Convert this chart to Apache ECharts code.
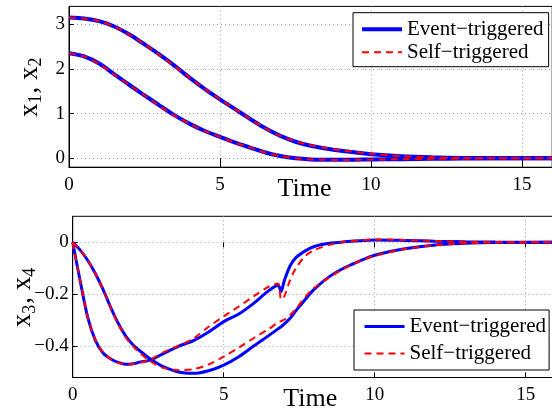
<!DOCTYPE html>
<html>
<head>
<meta charset="UTF-8">
<script src="https://cdn.jsdelivr.net/npm/echarts@6/dist/echarts.min.js"></script>
<title>Event vs self triggered</title>
<style>
    html, body { margin: 0; padding: 0; background: #fff; }
    #chart { width: 552px; height: 411px; }
</style>
</head>
<body>
<div id="chart"></div>
<script>
// top panel: x1, x2
const timeTop = [0, 0.5, 1, 1.5, 2, 2.5, 3, 3.5, 4, 4.5, 5, 5.5, 6, 6.5, 7, 7.5, 8, 8.5, 9, 9.5, 10, 11, 12, 13, 14, 16];
const x1Event = [3.15, 3.13, 3.07, 2.95, 2.77, 2.55, 2.32, 2.07, 1.80, 1.55, 1.32, 1.10, 0.88, 0.67, 0.50, 0.37, 0.28, 0.22, 0.17, 0.13, 0.09, 0.045, 0.02, 0.008, 0.003, 0];
const x1Self  = [3.15, 3.13, 3.07, 2.95, 2.77, 2.55, 2.31, 2.06, 1.80, 1.55, 1.32, 1.10, 0.88, 0.67, 0.50, 0.38, 0.29, 0.23, 0.18, 0.14, 0.10, 0.05, 0.022, 0.009, 0.003, 0];
const x2Event = [2.35, 2.28, 2.12, 1.88, 1.64, 1.41, 1.18, 0.96, 0.77, 0.61, 0.48, 0.35, 0.24, 0.13, 0.05, 0.0, -0.025, -0.033, -0.035, -0.032, -0.028, -0.02, -0.012, -0.006, -0.002, 0];
const x2Self  = [2.35, 2.28, 2.11, 1.87, 1.64, 1.41, 1.17, 0.95, 0.77, 0.61, 0.48, 0.35, 0.24, 0.13, 0.05, 0.0, -0.027, -0.036, -0.038, -0.035, -0.03, -0.021, -0.013, -0.006, -0.002, 0];

// bottom panel: x3, x4
const timeBot = [0, 0.25, 0.5, 0.75, 1, 1.25, 1.5, 1.75, 2, 2.25, 2.5, 2.75, 3, 3.5, 4, 4.5, 5, 5.5, 6, 6.5, 6.8, 6.9, 7.0, 7.2, 7.4, 7.7, 8, 8.5, 9, 9.5, 10, 11, 12, 13, 14, 16];
const x3Event = [0, -0.15, -0.29, -0.377, -0.425, -0.448, -0.462, -0.469, -0.467, -0.46, -0.455, -0.443, -0.428, -0.4, -0.378, -0.345, -0.305, -0.276, -0.234, -0.185, -0.165, -0.19, -0.15, -0.09, -0.058, -0.033, -0.016, -0.004, 0.002, 0.006, 0.009, 0.007, 0.004, 0.002, 0.001, 0];
const x3Self  = [0, -0.15, -0.29, -0.375, -0.423, -0.448, -0.463, -0.47, -0.468, -0.462, -0.455, -0.44, -0.423, -0.398, -0.37, -0.325, -0.285, -0.247, -0.207, -0.17, -0.158, -0.22, -0.21, -0.145, -0.098, -0.053, -0.03, -0.01, 0.002, 0.007, 0.011, 0.009, 0.005, 0.002, 0.001, 0];
const x4Event = [0, -0.03, -0.07, -0.12, -0.18, -0.248, -0.31, -0.36, -0.395, -0.42, -0.443, -0.462, -0.478, -0.499, -0.504, -0.494, -0.472, -0.44, -0.398, -0.358, -0.333, -0.325, -0.315, -0.292, -0.262, -0.22, -0.18, -0.132, -0.098, -0.072, -0.05, -0.025, -0.01, -0.004, -0.001, 0];
const x4Self  = [0, -0.03, -0.07, -0.12, -0.18, -0.25, -0.313, -0.365, -0.4, -0.428, -0.452, -0.47, -0.483, -0.492, -0.488, -0.47, -0.44, -0.405, -0.368, -0.333, -0.308, -0.303, -0.298, -0.28, -0.255, -0.21, -0.175, -0.135, -0.1, -0.072, -0.052, -0.026, -0.011, -0.004, -0.001, 0];

const xTicks = [0, 5, 10, 15];
const yTicksTop = [0, 1, 2, 3];
const yTicksBot = [-0.4, -0.2, 0];
const legendNames = ['Event\u2212triggered', 'Self\u2212triggered'];

const serif = 'Liberation Serif';
const blue = '#0000ff';
const red = '#ff0000';

function pairs(t, v) {
    return t.map((tt, i) => [tt, v[i]]);
}

function minusFmt(v) {
    return String(v).replace('-', '\u2212');
}

function timeAxis(gridIndex, shift) {
    return {
        type: 'value', gridIndex: gridIndex, min: 0, max: 16,
        name: 'Time', nameLocation: 'middle', nameGap: 9, nameMoveOverlap: false,
        nameTextStyle: { fontFamily: serif, fontSize: 26, color: '#000', padding: [0, shift, 0, 0] },
        axisLine: { show: true, onZero: false, lineStyle: { color: '#000', width: 1 } },
        axisTick: { inside: true, length: 5, customValues: xTicks, lineStyle: { color: '#000' } },
        axisLabel: { customValues: xTicks, fontFamily: serif, fontSize: 19, color: '#000', margin: 8 },
        splitLine: { show: true, lineStyle: { color: '#9a9a9a', width: 1, type: [1, 3] } }
    };
}

function mirrorAxis(gridIndex) {
    return {
        type: 'value', gridIndex: gridIndex, min: 0, max: 16, position: 'top',
        axisLine: { show: false },
        axisTick: { inside: true, length: 5, customValues: xTicks, lineStyle: { color: '#000' } },
        axisLabel: { show: false },
        splitLine: { show: false }
    };
}

function stateAxis(gridIndex, min, max, ticks, name, gap) {
    return {
        type: 'value', gridIndex: gridIndex, min: min, max: max,
        name: name, nameLocation: 'middle', nameRotate: 90, nameGap: gap, nameMoveOverlap: false,
        nameTextStyle: {
            color: '#000', fontFamily: serif,
            rich: {
                v: { fontFamily: serif, fontSize: 27, lineHeight: 27, color: '#000' },
                s: { fontFamily: serif, fontSize: 18, lineHeight: 18, padding: [14, 1, 0, 0], color: '#000' }
            }
        },
        axisLine: { show: true, onZero: false, lineStyle: { color: '#000', width: 1 } },
        axisTick: { inside: true, length: 5, customValues: ticks, lineStyle: { color: '#000' } },
        axisLabel: { customValues: ticks, fontFamily: serif, fontSize: 19, color: '#000', margin: 4, formatter: minusFmt },
        splitLine: { show: true, lineStyle: { color: '#9a9a9a', width: 1, type: [1, 3] } }
    };
}

function curve(name, gridIdx, t, v, isEvent, w) {
    return {
        name: name, type: 'line', xAxisIndex: gridIdx, yAxisIndex: gridIdx,
        data: pairs(t, v), symbol: 'none', showSymbol: false, smooth: 0.3,
        z: isEvent ? 2 : 3,
        lineStyle: isEvent ? { color: blue, width: w } : { color: red, width: 2, type: [7, 5] },
        itemStyle: { color: isEvent ? blue : red }
    };
}

// line-only legend samples, no symbol in the middle
const noSymbol = { color: 'rgba(0,0,0,0)', borderWidth: 0, opacity: 0 };

function legendBox(left, top, padding, gap, blueWidth) {
    return {
        orient: 'vertical', left: left, top: top, padding: padding, itemGap: gap,
        itemWidth: 40, itemHeight: 14, selectedMode: false,
        backgroundColor: '#fff', borderColor: '#000', borderWidth: 1, borderRadius: 0,
        textStyle: { fontFamily: serif, fontSize: 21, lineHeight: 21, color: '#000' },
        data: [
            { name: legendNames[0], itemStyle: noSymbol, lineStyle: { color: blue, width: blueWidth, type: 'solid', opacity: 1 } },
            { name: legendNames[1], itemStyle: noSymbol, lineStyle: { color: red, width: 2, type: [7, 5], opacity: 1 } }
        ]
    };
}

const chart = echarts.init(document.getElementById('chart'), null, { renderer: 'canvas' });

chart.setOption({
    animation: false,
    backgroundColor: '#fff',
    textStyle: { fontFamily: serif },
    grid: [
        { left: 69, top: 6.4, width: 483.2, height: 160.8, show: true, borderColor: '#000', borderWidth: 1, backgroundColor: '#fff', outerBoundsMode: 'none' },
        { left: 72.7, top: 216.3, width: 483.2, height: 161.2, show: true, borderColor: '#000', borderWidth: 1, backgroundColor: '#fff', outerBoundsMode: 'none' }
    ],
    xAxis: [timeAxis(0, 12), timeAxis(1, 8), mirrorAxis(0), mirrorAxis(1)],
    yAxis: [
        stateAxis(0, -0.2, 3.4, yTicksTop, '{v|x}{s|1}{v|, x}{s|2}', 26),
        stateAxis(1, -0.52, 0.1, yTicksBot, '{v|x}{s|3}{v|, x}{s|4}', 36)
    ],
    legend: [
        legendBox(353, 12.7, [6, 5, 4, 7], 2, 4),
        legendBox(354, 310, [6, 3, 6, 9], 6, 3)
    ],
    series: [
        curve(legendNames[0], 0, timeTop, x1Event, true, 4),
        curve(legendNames[0], 0, timeTop, x2Event, true, 4),
        curve(legendNames[1], 0, timeTop, x1Self, false),
        curve(legendNames[1], 0, timeTop, x2Self, false),
        curve(legendNames[0], 1, timeBot, x3Event, true, 3),
        curve(legendNames[0], 1, timeBot, x4Event, true, 3),
        curve(legendNames[1], 1, timeBot, x3Self, false),
        curve(legendNames[1], 1, timeBot, x4Self, false)
    ]
});
</script>
</body>
</html>
